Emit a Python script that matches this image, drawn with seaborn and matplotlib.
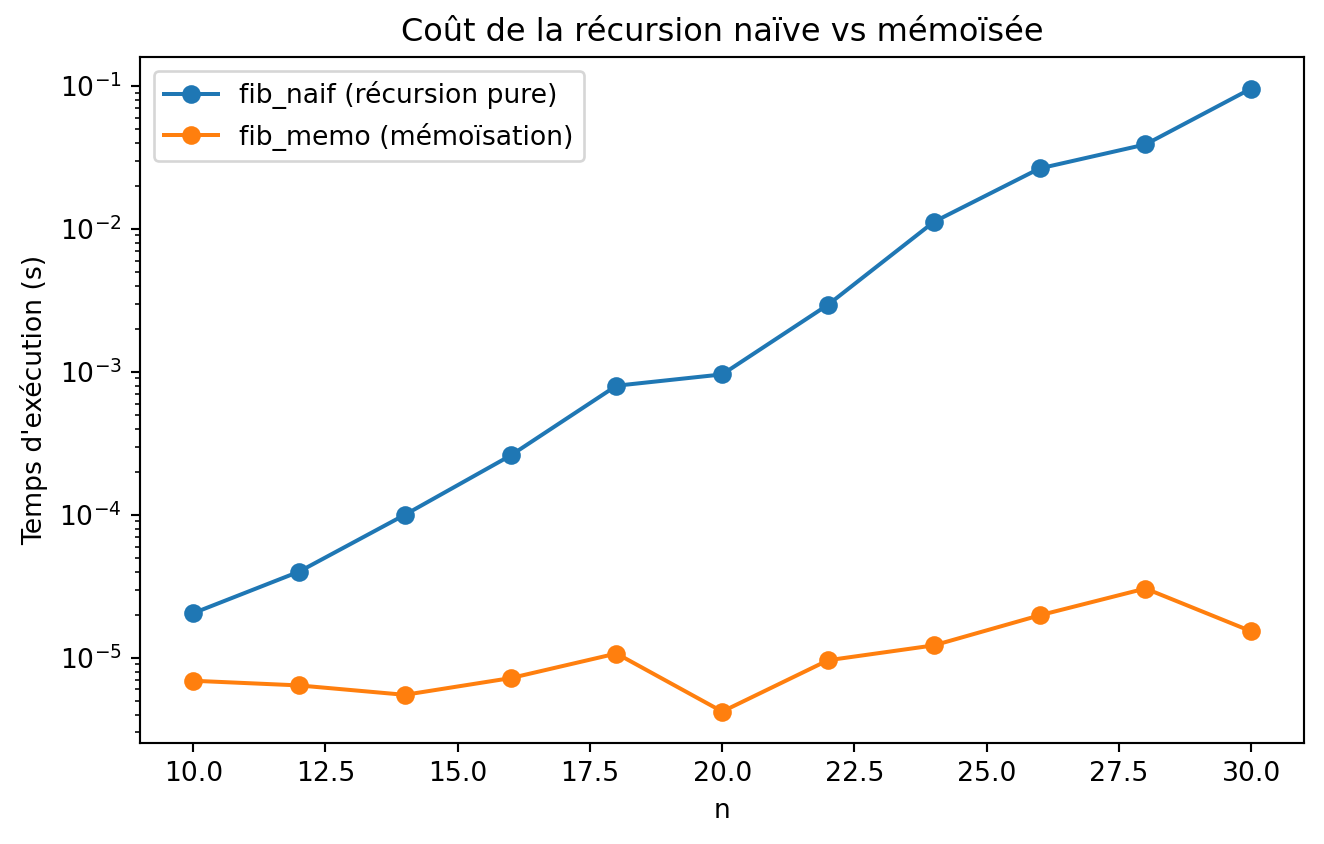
import numpy as np
import pandas as pd
import seaborn as sns
import matplotlib.pyplot as plt

# tailles de n testées
n_values = [10, 12, 14, 16, 18, 20, 22, 24, 26, 28, 30]

t_naif = [2.05e-5, 4.0e-5, 1.0e-4, 2.6e-4, 8.0e-4, 9.6e-4,
          2.95e-3, 1.12e-2, 2.65e-2, 3.9e-2, 9.6e-2]
t_memo = [6.9e-6, 6.4e-6, 5.5e-6, 7.2e-6, 1.07e-5, 4.2e-6,
          9.6e-6, 1.22e-5, 1.98e-5, 3.05e-5, 1.53e-5]

labels = ["fib_naif (récursion pure)", "fib_memo (mémoïsation)"]

df = pd.DataFrame({
    "n": n_values * 2,
    "temps": t_naif + t_memo,
    "methode": [labels[0]] * len(n_values) + [labels[1]] * len(n_values),
})

fig, ax = plt.subplots(figsize=(1324 / 192, 844 / 192), dpi=192)
sns.lineplot(data=df, x="n", y="temps", hue="methode", marker="o",
             markersize=7, markeredgewidth=0, palette=["#1f77b4", "#ff7f0e"], ax=ax)
ax.set_yscale("log")
ax.set_xlabel("n")
ax.set_ylabel("Temps d'exécution (s)")
ax.set_title("Coût de la récursion naïve vs mémoïsée")
ax.legend(title=None, loc="upper left")

fig.subplots_adjust(left=0.106, right=0.985, top=0.932, bottom=0.120)
fig.savefig("out.png")
